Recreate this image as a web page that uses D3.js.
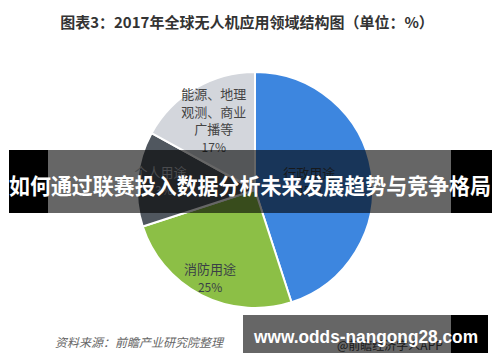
<!DOCTYPE html>
<html><head><meta charset="utf-8">
<script src="https://cdn.jsdelivr.net/npm/d3@7"></script>
<style>body{margin:0;background:#fff}svg{display:block}</style>
</head><body>
<svg id="c" width="500" height="362"></svg>
<script>
const categories = ["行政用途", "消防用途", "个人用途", "能源、地理观测、商业广播等"];
const labelLines = [["行政用途"], ["消防用途"], ["个人用途"], ["能源、地理", "观测、商业", "广播等"]];
const values = [45, 25, 13, 17];
const colors = ["#3d86df", "#8cbf46", "#50575f", "#d3d6dc"];
const labelColors = ["#3a3f47", "#3a3f47", "#b8bcc2", "#444"];
const labelRadius = [55, 99, 95, 81];

const svg = d3.select("#c");
const W = 500, H = 362;
const cx = 255, cy = 190, R = 118;

svg.append("text").attr("x", 247).attr("y", 28).attr("text-anchor", "middle")
  .attr("font-family", "Noto Sans CJK SC").attr("font-weight", "bold").attr("font-size", 15)
  .attr("fill", "#333").text("图表3：2017年全球无人机应用领域结构图（单位：%）");

const pie = d3.pie().sort(null).value(d => d)(values);
const arc = d3.arc().innerRadius(0).outerRadius(R);
const g = svg.append("g").attr("transform", `translate(${cx},${cy})`);
g.selectAll("path").data(pie).join("path")
  .attr("d", arc).attr("fill", (d, i) => colors[i])
  .attr("stroke", "#fff").attr("stroke-width", 2).attr("stroke-linejoin", "round");

pie.forEach((d, i) => {
  const a = d3.arc().innerRadius(labelRadius[i]).outerRadius(labelRadius[i]);
  const [x, y] = a.centroid(d);
  const lines = labelLines[i].concat([values[i] + "%"]);
  const lh = 17.5;
  const top = y - (lines.length - 1) * lh / 2;
  const t = g.append("text").attr("text-anchor", "middle")
    .attr("font-family", "Noto Sans CJK SC").attr("font-size", 13).attr("fill", labelColors[i]);
  lines.forEach((l, k) => {
    t.append("tspan").attr("x", x).attr("y", top + k * lh + 5)
      .attr("font-size", k === lines.length - 1 ? 12 : 13).text(l);
  });
});

// source
svg.append("text").attr("x", 55).attr("y", 347)
  .attr("font-family", "Noto Sans CJK SC").attr("font-style", "italic").attr("font-size", 12)
  .attr("fill", "#666").attr("transform", "skewX(0)").text("资料来源：前瞻产业研究院整理");

// bottom watermark
svg.append("text").attr("x", 337).attr("y", 350)
  .attr("font-family", "Noto Sans CJK SC").attr("font-size", 12).attr("fill", "#444").text("@前瞻经济学人APP");
svg.append("rect").attr("x", 243).attr("y", 315).attr("width", 208).attr("height", 38).attr("fill", "rgba(0,0,0,0.6)");
svg.append("rect").attr("x", 451).attr("y", 315).attr("width", 37).attr("height", 38).attr("fill", "#000");
svg.append("text").attr("x", 254).attr("y", 343)
  .attr("font-family", "Liberation Sans").attr("font-weight", "bold").attr("font-size", 18)
  .attr("textLength", 224).attr("lengthAdjust", "spacingAndGlyphs")
  .attr("fill", "#fff").text("www.odds-nangong28.com");

// banner
svg.append("rect").attr("x", 9).attr("y", 150).attr("width", 39).attr("height", 63).attr("fill", "#000");
svg.append("rect").attr("x", 48).attr("y", 150).attr("width", 403).attr("height", 63).attr("fill", "rgba(0,0,0,0.6)");
svg.append("rect").attr("x", 451).attr("y", 150).attr("width", 41).attr("height", 63).attr("fill", "#000");
svg.append("text").attr("x", 250).attr("y", 194).attr("text-anchor", "middle")
  .attr("font-family", "Noto Sans CJK SC").attr("font-weight", "bold").attr("font-size", 22)
  .attr("textLength", 482).attr("lengthAdjust", "spacingAndGlyphs")
  .attr("fill", "#fff").text("如何通过联赛投入数据分析未来发展趋势与竞争格局");
</script>
</body></html>
